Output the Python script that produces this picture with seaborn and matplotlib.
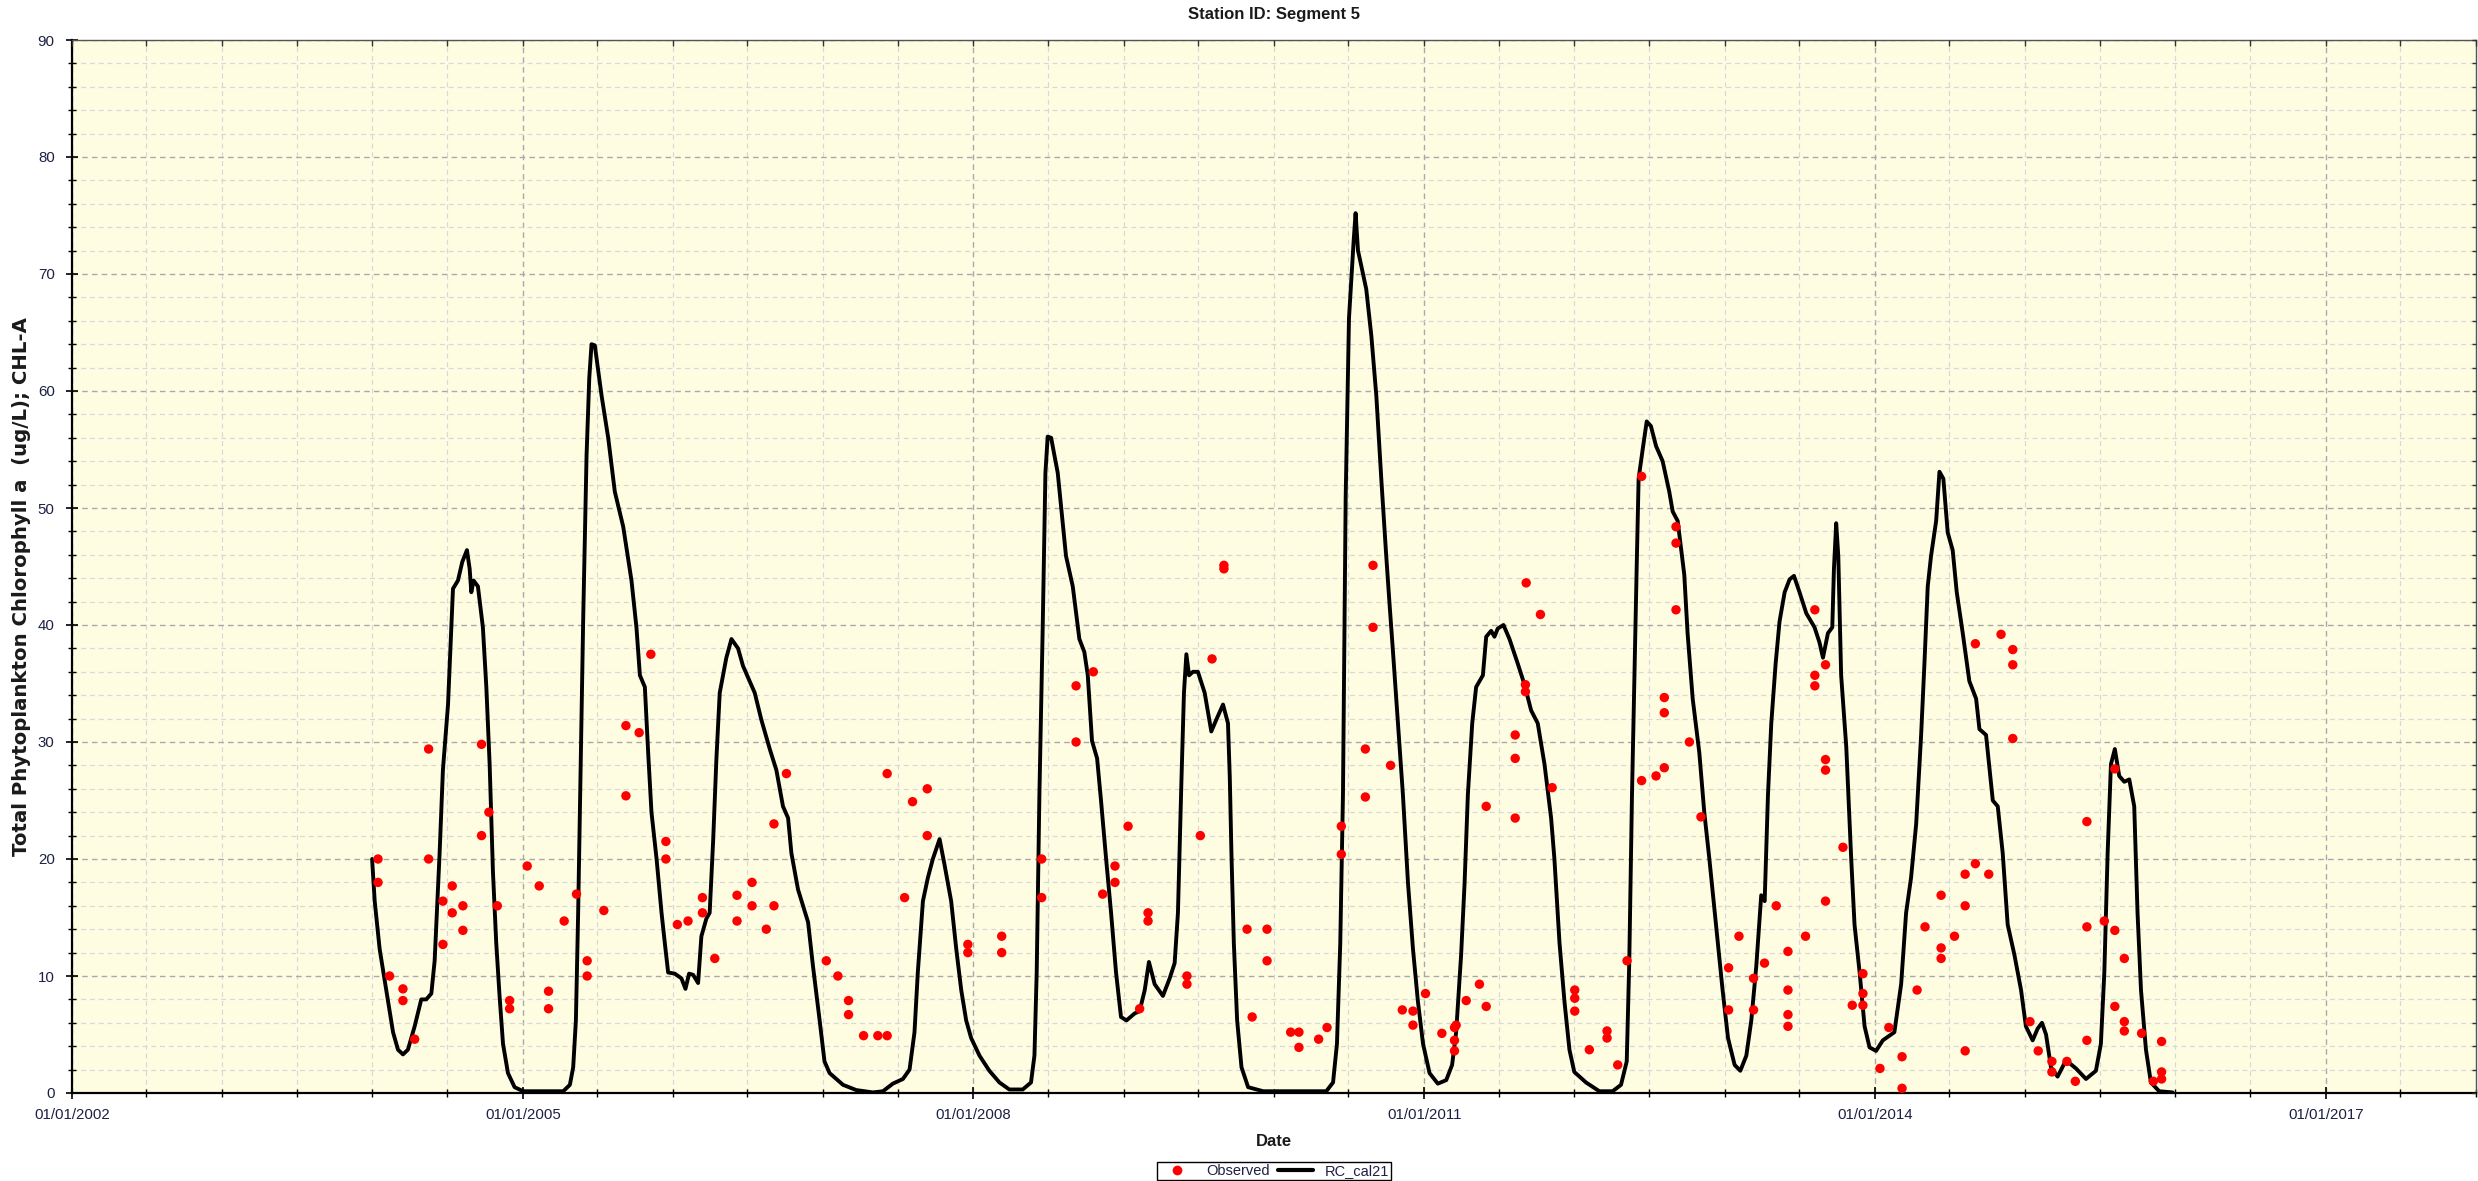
"""Segment 5 chlorophyll-a: observed samples vs RC_cal21 model run."""
import matplotlib
matplotlib.use("Agg")
import matplotlib.pyplot as plt
import matplotlib.dates as mdates
from matplotlib.lines import Line2D
from matplotlib.ticker import FixedLocator, MultipleLocator, NullFormatter
import numpy as np
import pandas as pd
import seaborn as sns

# model trace, decimal year / ug/L
model_year = [
    2003.998, 2004.016, 2004.049, 2004.093, 2004.138, 2004.171, 2004.204, 2004.237,
    2004.282, 2004.326, 2004.359, 2004.393, 2004.415, 2004.448, 2004.470, 2004.504,
    2004.537, 2004.570, 2004.599, 2004.630, 2004.648, 2004.659, 2004.674, 2004.703,
    2004.736, 2004.759, 2004.781, 2004.803, 2004.825, 2004.847, 2004.870, 2004.903,
    2004.947, 2005.002, 2005.269, 2005.313, 2005.335, 2005.353, 2005.368, 2005.384,
    2005.402, 2005.424, 2005.442, 2005.457, 2005.479, 2005.524, 2005.568, 2005.612,
    2005.668, 2005.723, 2005.756, 2005.779, 2005.812, 2005.834, 2005.856, 2005.890,
    2005.923, 2005.945, 2005.967, 2006.012, 2006.056, 2006.083, 2006.107, 2006.134,
    2006.167, 2006.189, 2006.222, 2006.244, 2006.267, 2006.289, 2006.311, 2006.355,
    2006.389, 2006.433, 2006.466, 2006.510, 2006.544, 2006.588, 2006.644, 2006.688,
    2006.732, 2006.766, 2006.788, 2006.832, 2006.899, 2006.932, 2006.976, 2007.009,
    2007.043, 2007.132, 2007.220, 2007.331, 2007.398, 2007.464, 2007.531, 2007.575,
    2007.608, 2007.630, 2007.664, 2007.697, 2007.730, 2007.775, 2007.808, 2007.852,
    2007.886, 2007.919, 2007.952, 2007.985, 2008.041, 2008.107, 2008.174, 2008.240,
    2008.329, 2008.384, 2008.407, 2008.422, 2008.440, 2008.462, 2008.480, 2008.495,
    2008.518, 2008.562, 2008.617, 2008.662, 2008.706, 2008.739, 2008.762, 2008.790,
    2008.824, 2008.850, 2008.884, 2008.917, 2008.950, 2008.983, 2009.017, 2009.072,
    2009.105, 2009.139, 2009.167, 2009.205, 2009.260, 2009.305, 2009.338, 2009.360,
    2009.383, 2009.400, 2009.416, 2009.434, 2009.460, 2009.493, 2009.538, 2009.582,
    2009.615, 2009.660, 2009.693, 2009.705, 2009.716, 2009.732, 2009.754, 2009.783,
    2009.827, 2009.927, 2010.348, 2010.393, 2010.419, 2010.441, 2010.459, 2010.477,
    2010.499, 2010.530, 2010.543, 2010.559, 2010.581, 2010.614, 2010.648, 2010.681,
    2010.714, 2010.747, 2010.769, 2010.792, 2010.825, 2010.858, 2010.892, 2010.925,
    2010.958, 2010.992, 2011.036, 2011.091, 2011.147, 2011.186, 2011.213, 2011.246,
    2011.269, 2011.291, 2011.320, 2011.346, 2011.391, 2011.413, 2011.446, 2011.468,
    2011.490, 2011.528, 2011.568, 2011.623, 2011.668, 2011.712, 2011.756, 2011.801,
    2011.845, 2011.867, 2011.901, 2011.934, 2011.967, 2012.000, 2012.078, 2012.167,
    2012.255, 2012.311, 2012.349, 2012.366, 2012.384, 2012.400, 2012.415, 2012.428,
    2012.455, 2012.482, 2012.510, 2012.544, 2012.588, 2012.632, 2012.655, 2012.688,
    2012.732, 2012.754, 2012.788, 2012.832, 2012.865, 2012.899, 2012.943, 2012.987,
    2013.021, 2013.065, 2013.103, 2013.143, 2013.176, 2013.209, 2013.242, 2013.265,
    2013.287, 2013.309, 2013.338, 2013.364, 2013.398, 2013.431, 2013.460, 2013.497,
    2013.542, 2013.597, 2013.630, 2013.653, 2013.686, 2013.715, 2013.726, 2013.741,
    2013.755, 2013.774, 2013.808, 2013.841, 2013.863, 2013.897, 2013.930, 2013.963,
    2014.007, 2014.052, 2014.085, 2014.129, 2014.174, 2014.207, 2014.240, 2014.274,
    2014.307, 2014.329, 2014.351, 2014.373, 2014.407, 2014.429, 2014.455, 2014.484,
    2014.517, 2014.544, 2014.584, 2014.628, 2014.673, 2014.695, 2014.739, 2014.784,
    2014.817, 2014.850, 2014.883, 2014.928, 2014.972, 2015.005, 2015.050, 2015.083,
    2015.112, 2015.139, 2015.172, 2015.216, 2015.272, 2015.338, 2015.405, 2015.471,
    2015.504, 2015.527, 2015.549, 2015.571, 2015.597, 2015.626, 2015.660, 2015.693,
    2015.726, 2015.748, 2015.771, 2015.804, 2015.837, 2015.892, 2015.981,
]
model_chla = [
    20.0, 16.4, 12.3, 8.8, 5.2, 3.7, 3.3, 3.7,
    5.7, 8.0, 8.0, 8.5, 11.3, 20.5, 27.6, 33.2,
    43.1, 43.8, 45.4, 46.4, 44.8, 42.8, 43.8, 43.3,
    39.8, 34.7, 28.1, 18.9, 12.8, 8.3, 4.2, 1.7,
    0.5, 0.15, 0.15, 0.7, 2.2, 6.2, 15.4, 27.6,
    40.8, 54.5, 61.1, 64.0, 63.9, 59.6, 56.0, 51.4,
    48.4, 43.8, 39.8, 35.7, 34.7, 29.1, 24.0, 20.0,
    15.4, 12.8, 10.3, 10.2, 9.8, 8.9, 10.2, 10.1,
    9.4, 13.4, 14.9, 15.4, 21.5, 28.6, 34.2, 37.2,
    38.8, 38.0, 36.5, 35.2, 34.2, 31.9, 29.4, 27.6,
    24.5, 23.5, 20.5, 17.4, 14.6, 10.8, 6.2, 2.7,
    1.7, 0.7, 0.25, 0.05, 0.15, 0.8, 1.2, 2.0,
    5.2, 10.3, 16.4, 18.4, 20.0, 21.7, 19.5, 16.4,
    12.3, 8.8, 6.2, 4.7, 3.2, 1.9, 0.9, 0.3,
    0.3, 0.9, 3.2, 10.3, 25.5, 39.8, 53.0, 56.1,
    56.0, 53.0, 45.9, 43.3, 38.8, 37.7, 35.7, 30.1,
    28.6, 25.0, 20.0, 15.4, 10.3, 6.5, 6.2, 6.8,
    7.0, 8.8, 11.2, 9.3, 8.3, 9.8, 11.1, 15.4,
    26.6, 34.2, 37.5, 35.7, 36.0, 36.0, 34.2, 30.9,
    31.9, 33.2, 31.6, 27.0, 20.5, 12.8, 6.2, 2.2,
    0.5, 0.15, 0.15, 0.9, 4.2, 12.8, 25.5, 50.9,
    66.2, 72.8, 75.2, 72.0, 70.7, 68.7, 64.7, 59.6,
    52.5, 45.9, 41.8, 37.7, 31.6, 25.5, 17.9, 12.3,
    7.8, 4.2, 1.7, 0.8, 1.1, 2.4, 5.2, 11.8,
    17.9, 25.5, 31.6, 34.7, 35.7, 39.0, 39.5, 39.0,
    39.7, 40.0, 38.8, 36.7, 34.9, 32.7, 31.6, 28.1,
    23.5, 20.0, 12.8, 7.8, 3.7, 1.8, 0.9, 0.15,
    0.15, 0.7, 2.7, 11.3, 25.5, 35.7, 44.8, 52.5,
    55.0, 57.4, 57.0, 55.3, 54.0, 51.4, 49.7, 48.9,
    44.3, 39.3, 33.7, 29.1, 24.0, 20.0, 14.4, 8.8,
    4.7, 2.4, 1.9, 3.2, 6.2, 10.8, 16.9, 16.4,
    25.5, 31.6, 36.7, 40.3, 42.8, 43.9, 44.2, 42.8,
    41.0, 39.8, 38.5, 37.2, 39.3, 39.8, 44.8, 48.7,
    45.9, 35.7, 29.6, 20.0, 14.4, 10.3, 5.7, 3.9,
    3.6, 4.5, 4.8, 5.2, 9.3, 15.4, 18.4, 23.0,
    30.6, 36.7, 43.3, 45.9, 48.9, 53.1, 52.5, 47.9,
    46.4, 42.8, 39.3, 35.2, 33.7, 31.1, 30.6, 25.0,
    24.5, 20.5, 14.4, 11.8, 8.8, 5.7, 4.5, 5.5,
    6.0, 5.0, 2.2, 1.4, 2.8, 2.1, 1.2, 1.9,
    4.2, 10.3, 20.5, 28.1, 29.4, 27.1, 26.6, 26.8,
    24.5, 15.4, 8.8, 3.7, 0.9, 0.15, 0.05,
]

# observed samples, decimal year / ug/L
obs_year = [
    2004.038, 2004.038, 2004.115, 2004.204, 2004.204, 2004.282, 2004.375, 2004.375,
    2004.470, 2004.470, 2004.532, 2004.532, 2004.603, 2004.603, 2004.727, 2004.727,
    2004.776, 2004.832, 2004.914, 2004.914, 2005.029, 2005.109, 2005.171, 2005.171,
    2005.275, 2005.357, 2005.428, 2005.428, 2005.539, 2005.686, 2005.686, 2005.774,
    2005.852, 2005.952, 2005.952, 2006.029, 2006.100, 2006.196, 2006.196, 2006.278,
    2006.426, 2006.426, 2006.526, 2006.526, 2006.621, 2006.672, 2006.672, 2006.755,
    2007.021, 2007.098, 2007.169, 2007.169, 2007.269, 2007.364, 2007.426, 2007.426,
    2007.542, 2007.595, 2007.693, 2007.693, 2007.963, 2007.963, 2008.189, 2008.189,
    2008.455, 2008.455, 2008.684, 2008.684, 2008.799, 2008.861, 2008.943, 2008.943,
    2009.028, 2009.105, 2009.161, 2009.161, 2009.420, 2009.420, 2009.509, 2009.587,
    2009.666, 2009.666, 2009.820, 2009.854, 2009.953, 2009.953, 2010.111, 2010.166,
    2010.166, 2010.297, 2010.353, 2010.448, 2010.448, 2010.608, 2010.608, 2010.659,
    2010.659, 2010.776, 2010.854, 2010.925, 2010.925, 2011.009, 2011.118, 2011.202,
    2011.202, 2011.202, 2011.213, 2011.280, 2011.368, 2011.413, 2011.413, 2011.606,
    2011.606, 2011.606, 2011.674, 2011.674, 2011.679, 2011.774, 2011.852, 2012.003,
    2012.003, 2012.003, 2012.100, 2012.218, 2012.218, 2012.289, 2012.351, 2012.448,
    2012.448, 2012.544, 2012.599, 2012.599, 2012.599, 2012.677, 2012.677, 2012.677,
    2012.766, 2012.843, 2013.025, 2013.025, 2013.094, 2013.191, 2013.191, 2013.264,
    2013.342, 2013.420, 2013.420, 2013.420, 2013.420, 2013.537, 2013.599, 2013.599,
    2013.599, 2013.670, 2013.670, 2013.670, 2013.670, 2013.786, 2013.848, 2013.919,
    2013.919, 2013.919, 2014.033, 2014.092, 2014.180, 2014.180, 2014.280, 2014.333,
    2014.440, 2014.440, 2014.440, 2014.529, 2014.600, 2014.600, 2014.600, 2014.668,
    2014.668, 2014.757, 2014.839, 2014.917, 2014.917, 2014.917, 2015.032, 2015.087,
    2015.178, 2015.178, 2015.278, 2015.334, 2015.411, 2015.411, 2015.411, 2015.527,
    2015.597, 2015.597, 2015.597, 2015.660, 2015.660, 2015.660, 2015.775, 2015.853,
    2015.908, 2015.908, 2015.908,
]
obs_chla = [
    20.0, 18.0, 10.0, 8.9, 7.9, 4.6, 29.4, 20.0,
    16.4, 12.7, 17.7, 15.4, 16.0, 13.9, 29.8, 22.0,
    24.0, 16.0, 7.9, 7.2, 19.4, 17.7, 8.7, 7.2,
    14.7, 17.0, 11.3, 10.0, 15.6, 31.4, 25.4, 30.8,
    37.5, 21.5, 20.0, 14.4, 14.7, 16.7, 15.4, 11.5,
    16.9, 14.7, 18.0, 16.0, 14.0, 23.0, 16.0, 27.3,
    11.3, 10.0, 7.9, 6.7, 4.9, 4.9, 4.9, 27.3,
    16.7, 24.9, 26.0, 22.0, 12.7, 12.0, 13.4, 12.0,
    20.0, 16.7, 34.8, 30.0, 36.0, 17.0, 19.4, 18.0,
    22.8, 7.2, 15.4, 14.7, 10.0, 9.3, 22.0, 37.1,
    44.8, 45.1, 14.0, 6.5, 14.0, 11.3, 5.2, 5.2,
    3.9, 4.6, 5.6, 22.8, 20.4, 29.4, 25.3, 45.1,
    39.8, 28.0, 7.1, 7.0, 5.8, 8.5, 5.1, 5.6,
    4.5, 3.6, 5.8, 7.9, 9.3, 24.5, 7.4, 30.6,
    28.6, 23.5, 34.9, 34.3, 43.6, 40.9, 26.1, 8.8,
    8.1, 7.0, 3.7, 5.3, 4.7, 2.4, 11.3, 52.7,
    26.7, 27.1, 33.8, 32.5, 27.8, 48.4, 47.0, 41.3,
    30.0, 23.6, 10.7, 7.1, 13.4, 9.8, 7.1, 11.1,
    16.0, 12.1, 8.8, 6.7, 5.7, 13.4, 41.3, 35.7,
    34.8, 36.6, 28.5, 27.6, 16.4, 21.0, 7.5, 10.2,
    8.5, 7.5, 2.1, 5.6, 3.1, 0.4, 8.8, 14.2,
    16.9, 12.4, 11.5, 13.4, 18.7, 16.0, 3.6, 19.6,
    38.4, 18.7, 39.2, 37.9, 36.6, 30.3, 6.1, 3.6,
    2.7, 1.8, 2.7, 1.0, 23.2, 14.2, 4.5, 14.7,
    27.7, 13.9, 7.4, 11.5, 6.1, 5.3, 5.1, 1.0,
    4.4, 1.8, 1.2,
]

tick_years = [2002, 2005, 2008, 2011, 2014, 2017]
x_range = (2002, 2018)
y_range = (0, 90)

W, H = 2478, 1181
AX_L, AX_R, AX_T, AX_B = 72, 2476, 40, 1093
TICK_COLOR = "#1c2143"


def to_dates(years):
    years = np.asarray(years, dtype=float)
    whole = np.floor(years).astype(int)
    base = pd.to_datetime([f"{y}-01-01" for y in whole])
    return base + pd.to_timedelta((years - whole) * 365.25, unit="D")


def main():
    sns.set_style("ticks")
    plt.rcParams["font.family"] = ["Liberation Sans", "DejaVu Sans"]

    model = pd.DataFrame({"date": to_dates(model_year), "chla": model_chla})
    obs = pd.DataFrame({"date": to_dates(obs_year), "chla": obs_chla})

    fig = plt.figure(figsize=(W / 100, H / 100), dpi=100)
    ax = fig.add_axes([AX_L / W, 1 - AX_B / H, (AX_R - AX_L) / W, (AX_B - AX_T) / H])
    ax.set_facecolor("#fffde1")
    ax.set_axisbelow(True)

    sns.lineplot(data=model, x="date", y="chla", color="black", linewidth=2.8,
                 ax=ax, zorder=3, legend=False)
    sns.scatterplot(data=obs, x="date", y="chla", color="#ff0000", s=46,
                    edgecolor="none", ax=ax, zorder=4, legend=False)

    xlim = mdates.date2num(pd.to_datetime([f"{y}-01-01" for y in x_range]))
    ax.set_xlim(*xlim)
    ax.set_ylim(*y_range)
    major_x = mdates.date2num(pd.to_datetime([f"{y}-01-01" for y in tick_years]))
    ax.xaxis.set_major_locator(FixedLocator(major_x))
    ax.xaxis.set_minor_locator(mdates.MonthLocator(bymonth=[1, 7]))
    ax.xaxis.set_major_formatter(mdates.DateFormatter("%m/%d/%Y"))
    ax.yaxis.set_major_locator(MultipleLocator(10))
    ax.yaxis.set_minor_locator(MultipleLocator(2))

    ax.grid(which="major", color="#a9a9a9", linestyle=(0, (4, 3)), linewidth=1.0)
    ax.grid(which="minor", color="#d8d8d8", linestyle=(0, (4, 3)), linewidth=0.9)

    ax.tick_params(which="both", direction="inout", colors="black",
                   labelcolor=TICK_COLOR, labelsize=10.8)
    ax.tick_params(which="major", length=9, width=1.2)
    ax.tick_params(which="minor", length=6, width=1.0)
    ax.tick_params(axis="x", which="major", pad=6)
    ax.tick_params(axis="y", which="major", pad=8)
    ax.set_xlabel("")
    ax.set_ylabel("")

    for side in ("left", "bottom"):
        ax.spines[side].set_color("black")
        ax.spines[side].set_linewidth(1.6)
    for side in ("top", "right"):
        ax.spines[side].set_color("#555555")
        ax.spines[side].set_linewidth(1.0)

    # inward ticks on the top and right edges
    top = ax.twiny()
    top.set_xlim(ax.get_xlim())
    top.xaxis.set_major_locator(FixedLocator(major_x))
    top.xaxis.set_minor_locator(mdates.MonthLocator(bymonth=[1, 7]))
    top.xaxis.set_major_formatter(NullFormatter())
    top.tick_params(which="both", direction="in", length=4, width=1.0, colors="#333333")
    right = ax.twinx()
    right.set_ylim(ax.get_ylim())
    right.yaxis.set_major_locator(MultipleLocator(10))
    right.yaxis.set_minor_locator(MultipleLocator(2))
    right.yaxis.set_major_formatter(NullFormatter())
    right.tick_params(which="both", direction="in", length=3, width=1.0, colors="#333333")
    for twin in (top, right):
        for sp in twin.spines.values():
            sp.set_visible(False)

    cx = (AX_L + AX_R) / 2 / W
    fig.text(cx, 1 - 15 / H, "Station ID: Segment 5", ha="center", va="center",
             fontsize=12, fontweight="bold", color="#1a1a1a")
    fig.text(cx, 1 - 1142 / H, "Date", ha="center", va="center",
             fontsize=12, fontweight="bold", color="#1a1a1a")
    fig.text(22 / W, 1 - 587 / H, "Total Phytoplankton Chlorophyll a  (ug/L); CHL-A",
             rotation=90, ha="center", va="center", fontsize=14.2,
             fontweight="bold", color="#1a1a1a", family=["DejaVu Sans"])

    handles = [
        Line2D([], [], marker="o", linestyle="none", color="#ff0000",
               markeredgecolor="none", markersize=7),
        Line2D([], [], color="black", linewidth=3.0),
    ]
    leg = fig.legend(handles, ["Observed", "RC_cal21"], loc="center",
                     bbox_to_anchor=(cx, 1 - 1171 / H), ncol=2, frameon=True,
                     fancybox=False, edgecolor="black", framealpha=1,
                     fontsize=10.5, handlelength=2.4, handletextpad=0.8,
                     columnspacing=0.55, borderpad=0.15, borderaxespad=0)
    leg.get_frame().set_linewidth(1.0)
    for txt in leg.get_texts():
        txt.set_color(TICK_COLOR)

    fig.savefig("out.png", dpi=100)
    plt.close(fig)


if __name__ == "__main__":
    main()
